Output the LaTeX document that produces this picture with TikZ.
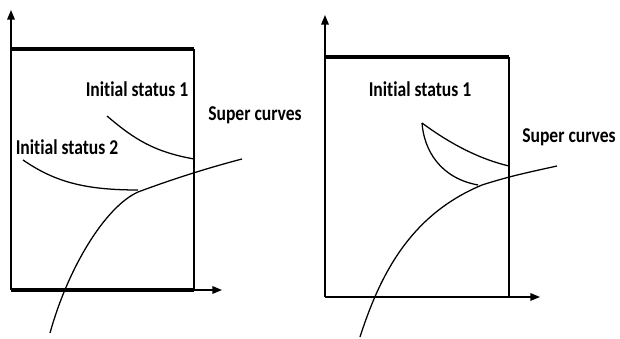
\documentclass[tikz,border=0pt]{standalone}
\usepackage{fontspec}
\setmainfont{Carlito}[Ligatures=NoCommon]
\usetikzlibrary{arrows.meta}
\newcommand\lbltext[1]{\scalebox{1}[1.2]{#1}}

\begin{document}
\begin{tikzpicture}[x=0.025cm,y=-0.025cm,line width=.9pt,font=\fontsize{12.5}{14}\selectfont\bfseries,
  axis/.style={-{Triangle[length=2.4mm,width=1.9mm]}},
  bar/.style={line width=2.8pt}]
\useasboundingbox (0,0) rectangle (620,339);
% left panel
\draw[axis] (11,290)--(11,10);
\draw[axis] (11,290)--(222,290);
\draw[bar] (11,49)--(194,49) (11,290)--(194,290);
\draw (194,49)--(194,290);
\draw (107,116)..controls (135,140) and (155,152)..(194,159);
\draw (23,160)..controls (55,182) and (85,190)..(138,190);
\draw (50,333)..controls (68,268) and (105,207)..(138,192)..controls (165,182) and (200,170)..(242,159);
\node[inner sep=0pt] (st1L) at (137,89) {\lbltext{Initial status 1}};
\node[inner sep=0pt] (st2L) at (67,147) {\lbltext{Initial status 2}};
\node[inner sep=0pt] (supL) at (255,115) {\lbltext{Super curves}};
% right panel
\draw[axis] (325,297)--(325,15);
\draw[axis] (325,297)--(540,297);
\draw[bar] (325,57)--(509,57);
\draw (509,57)--(509,297);
\draw (422,123)..controls (445,140) and (475,158)..(509,166);
\draw (422,123)..controls (424,150) and (440,178)..(478,185);
\draw (360,337)..controls (380,275) and (410,215)..(482,185)..controls (510,176) and (530,172)..(557,166);
\node[inner sep=0pt] (st1R) at (420,89) {\lbltext{Initial status 1}};
\node[inner sep=0pt] (supR) at (569,137) {\lbltext{Super curves}};
\end{tikzpicture}
\end{document}
